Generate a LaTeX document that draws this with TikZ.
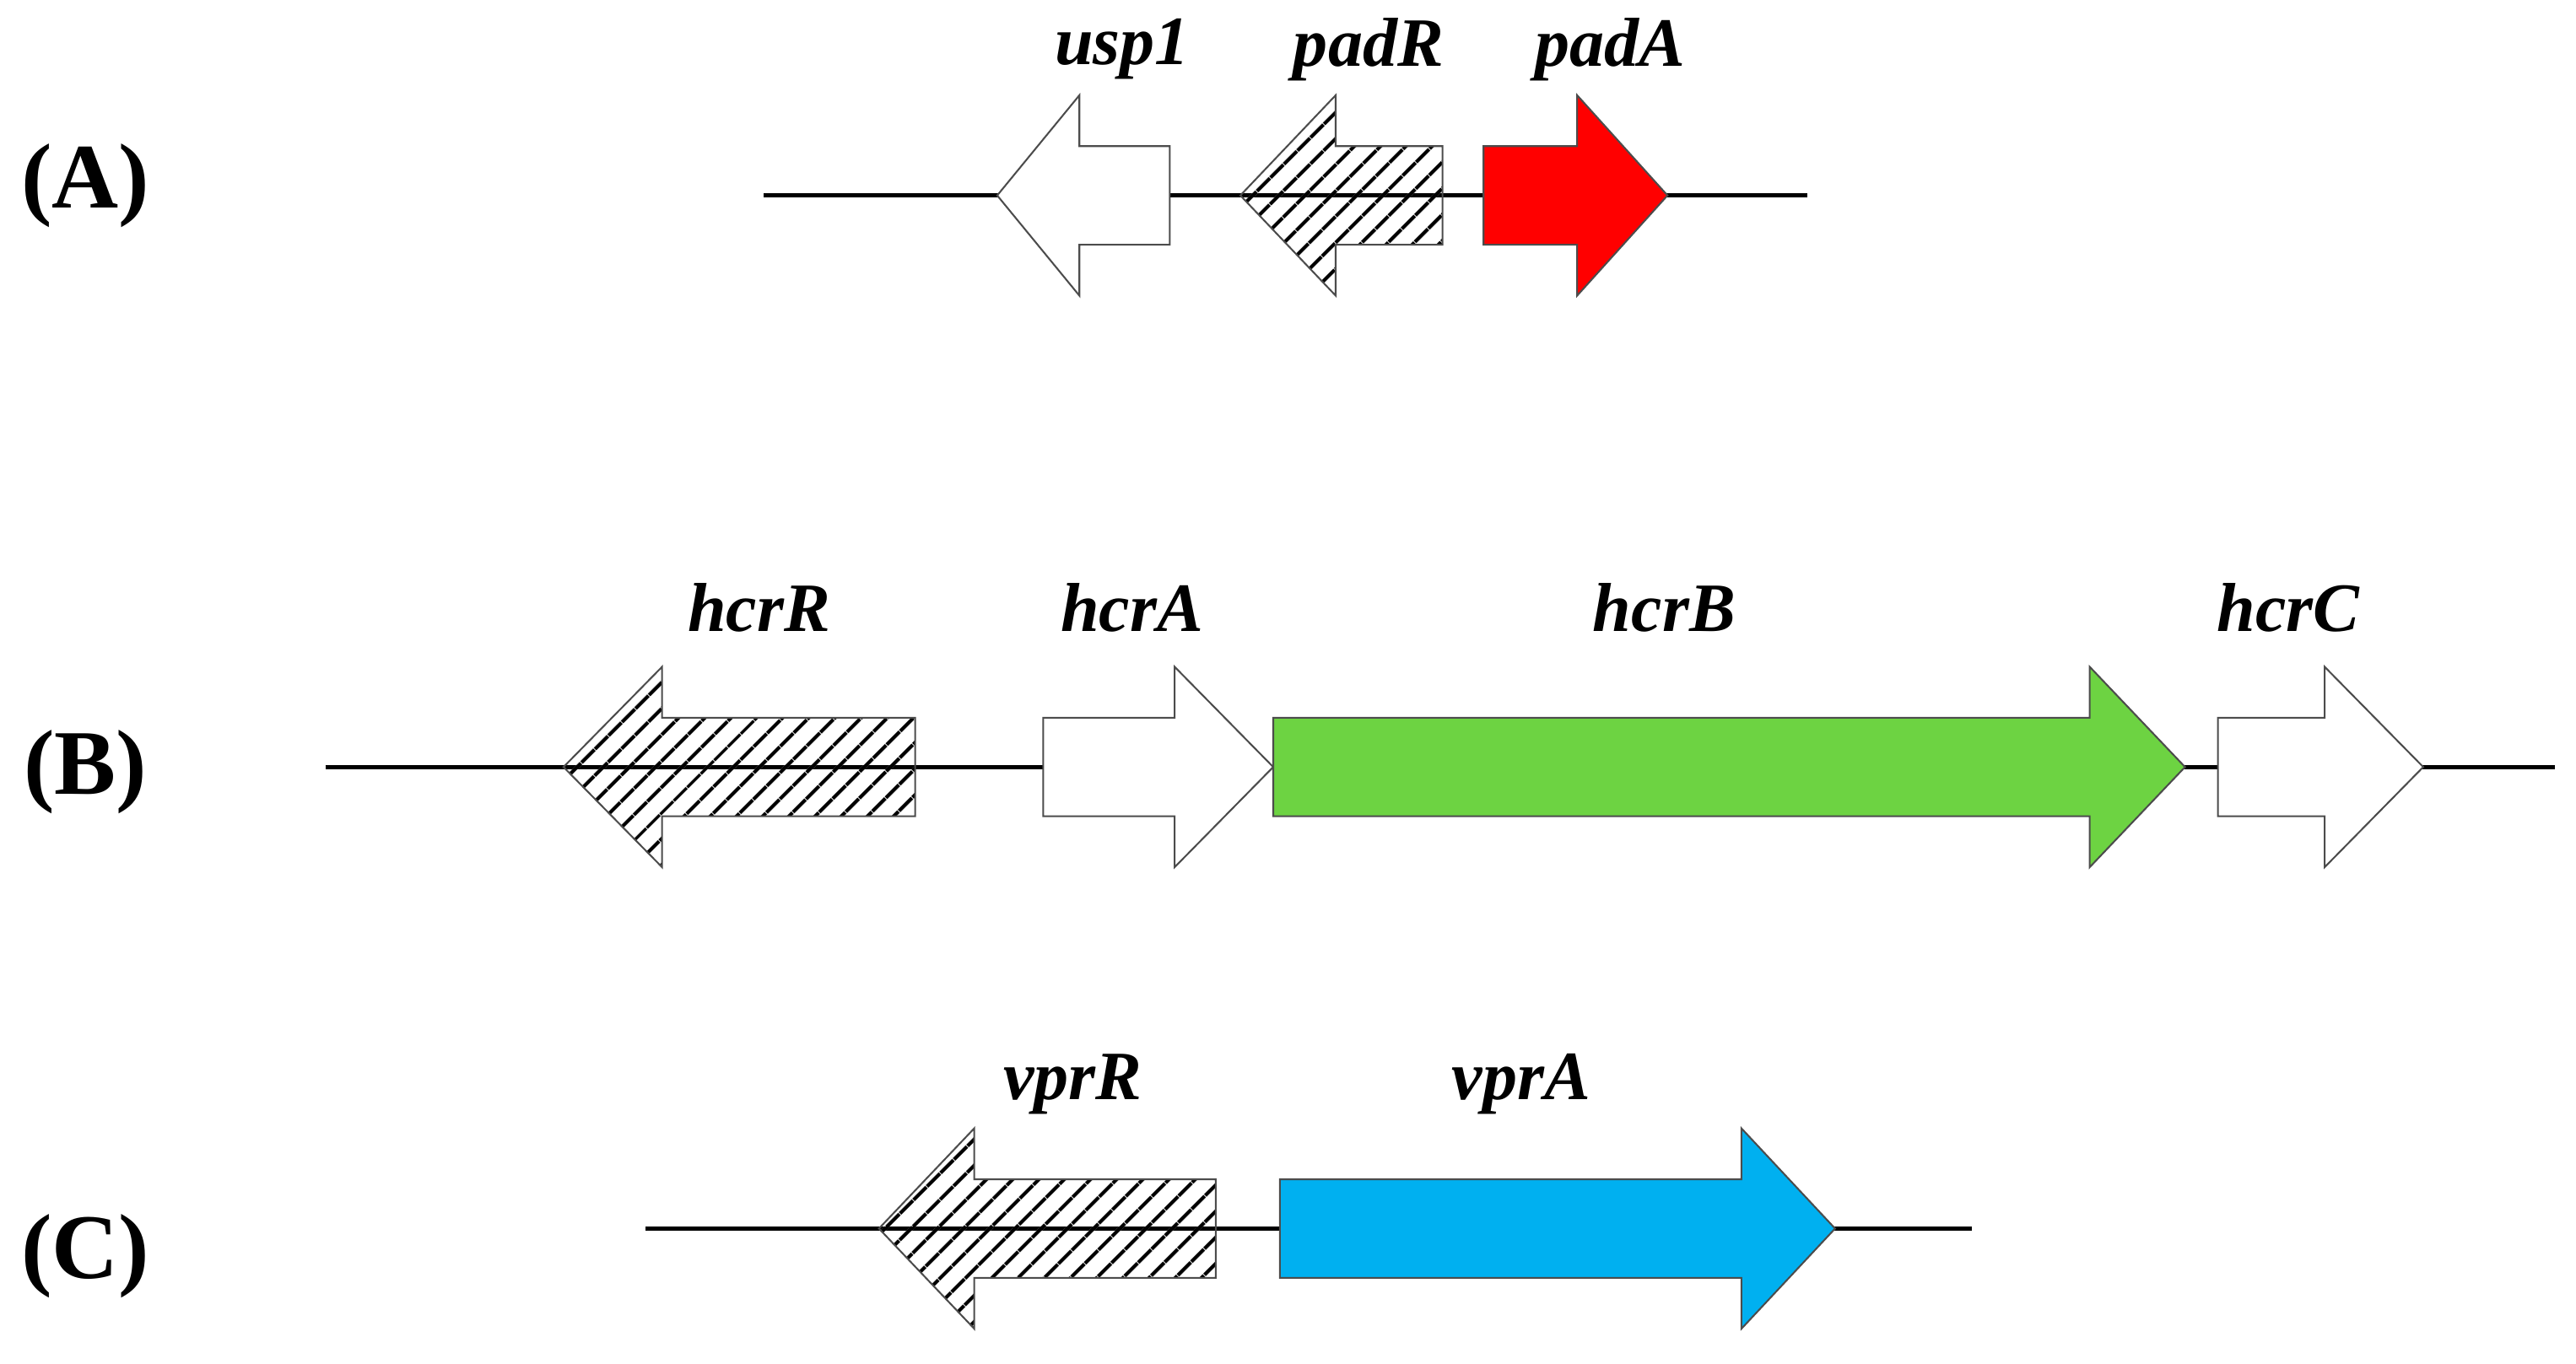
\documentclass[tikz,border=0pt]{standalone}
\usepackage{fontspec}
\setmainfont{Liberation Serif}
\usetikzlibrary{patterns.meta}
\definecolor{padred}{RGB}{255,0,0}
\definecolor{hcrgreen}{RGB}{109,211,66}
\definecolor{vprblue}{RGB}{0,176,240}
% gene arrow: style, tail x, head base x, tip x, axis y
\newcommand{\genearrow}[5]{%
  \draw[#1] (#2,#5+30) -- (#3,#5+30) -- (#3,#5+61) -- (#4,#5)
    -- (#3,#5-61) -- (#3,#5-30) -- (#2,#5-30) -- cycle;}
\begin{document}
\begin{tikzpicture}[x=0.02cm, y=-0.02cm,
    gene/.style={draw=black!70, line width=0.6pt, fill=white},
    hatched/.style={gene, pattern={Lines[angle=45, distance=6.5pt, line width=1.3pt]}},
    dna/.style={line width=1.4pt},
    genelabel/.style={font=\bfseries\itshape\fontsize{24}{28}\selectfont},
    panel/.style={font=\bfseries\fontsize{32}{36}\selectfont}]
  \useasboundingbox (0,0) rectangle (1568,830);

  % (A)
  \node[panel] (pA) at (52,113) {(A)};
  \draw[dna] (465,119) -- (1100,119);
  \genearrow{gene}{712}{657}{607}{119}
  \genearrow{hatched}{878}{813}{755}{119}
  \genearrow{gene, fill=padred}{903}{960}{1015}{119}
  \node[genelabel] (usp) at (683,30) {usp1};
  \node[genelabel] (padR) at (833,30) {padR};
  \node[genelabel] (padA) at (980,30) {padA};

  % (B)
  \node[panel] (pB) at (52,470) {(B)};
  \draw[dna] (198,467) -- (1555,467);
  \genearrow{hatched}{557}{403}{343}{467}
  \genearrow{gene}{635}{715}{775}{467}
  \genearrow{gene, fill=hcrgreen}{775}{1272}{1330}{467}
  \genearrow{gene}{1350}{1415}{1475}{467}
  \node[genelabel] (hcrR) at (462,370) {hcrR};
  \node[genelabel] (hcrA) at (689,370) {hcrA};
  \node[genelabel] (hcrB) at (1013,370) {hcrB};
  \node[genelabel] (hcrC) at (1393,370) {hcrC};

  % (C)
  \node[panel] (pC) at (52,765) {(C)};
  \draw[dna] (393,748) -- (1200,748);
  \genearrow{hatched}{740}{593}{535}{748}
  \genearrow{gene, fill=vprblue}{779}{1060}{1117}{748}
  \node[genelabel] (vprR) at (653,660) {vprR};
  \node[genelabel] (vprA) at (926,660) {vprA};
\end{tikzpicture}
\end{document}
